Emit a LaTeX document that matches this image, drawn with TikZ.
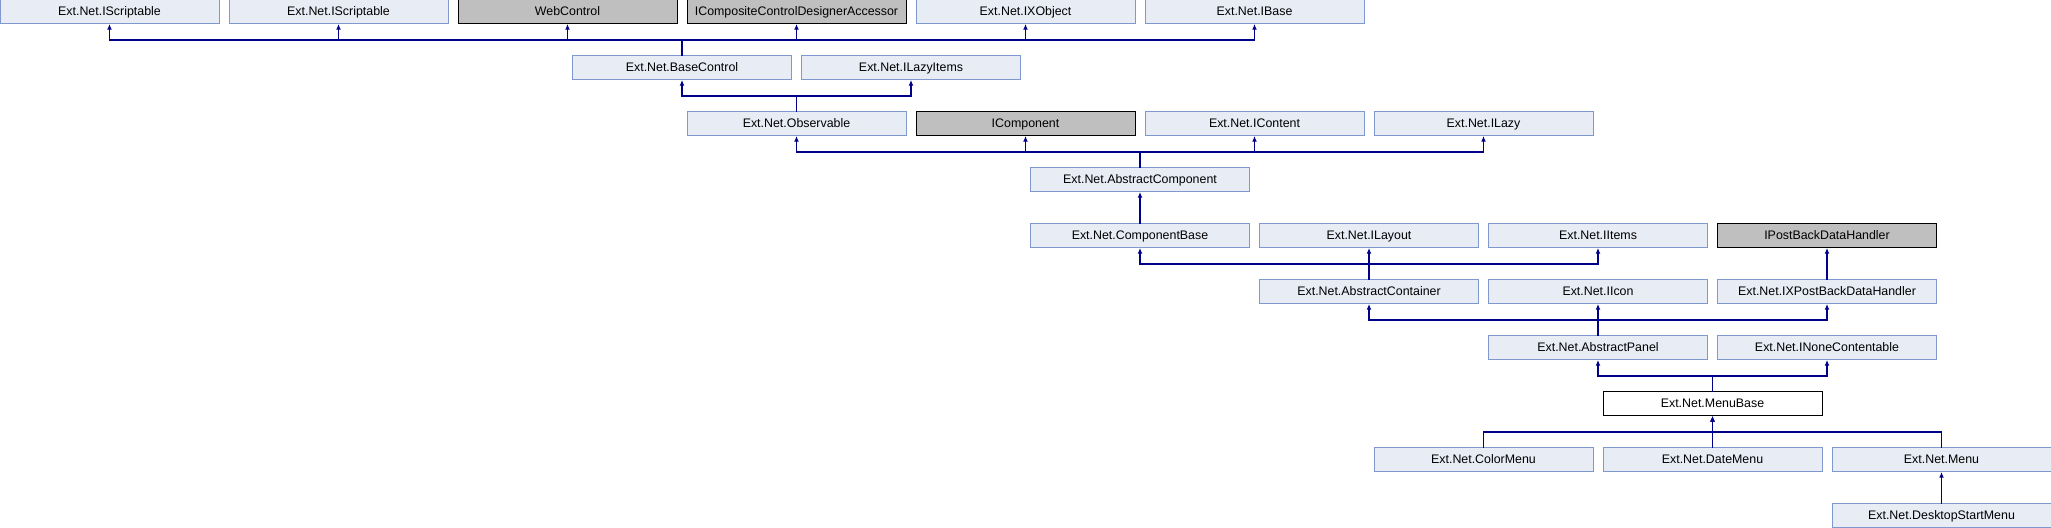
\documentclass[tikz,border=0pt]{standalone}
\usepackage{fontspec}
\setmainfont{Liberation Sans}
\usetikzlibrary{arrows.meta}
\definecolor{boxFill}{HTML}{E8ECF4}
\definecolor{boxLine}{HTML}{7F98CE}
\definecolor{extFill}{HTML}{BFBFBF}
\definecolor{inhLine}{HTML}{000088}
\begin{document}
\begin{tikzpicture}
[x=0.5pt,y=-0.5pt,%
  classDecorate/.style={shape=rectangle,draw=boxLine,fill=boxFill,line width=0.5pt,
    minimum width=109.5pt,minimum height=12pt,inner sep=0pt,outer sep=0pt,
    text height=4.6pt,text depth=1.3pt,
    font=\fontsize{6.2}{7}\selectfont},%
  extDecorate/.style={classDecorate,draw=black,fill=extFill},%
  mainDecorate/.style={classDecorate,draw=black,fill=white},%
  lineDecorate/.style={draw=inhLine,line width=0.6pt,-{Latex[length=2.8pt,width=2.4pt]},
    to path={(\tikztostart) -- ++(0,-16) -| (\tikztotarget)}}]
\useasboundingbox (0,0) rectangle (2051,528);
%% classes of the hierarchy
\foreach \nodename/\c/\r/\kind/\txt in {
  isa/0/0/classDecorate/Ext.Net.IScriptable,
  isb/1/0/classDecorate/Ext.Net.IScriptable,
  web/2/0/extDecorate/WebControl,
  icc/3/0/extDecorate/ICompositeControlDesignerAccessor,
  ixo/4/0/classDecorate/Ext.Net.IXObject,
  ibase/5/0/classDecorate/Ext.Net.IBase,
  bctl/2.5/1/classDecorate/Ext.Net.BaseControl,
  ilzi/3.5/1/classDecorate/Ext.Net.ILazyItems,
  obs/3/2/classDecorate/Ext.Net.Observable,
  icomp/4/2/extDecorate/IComponent,
  icont/5/2/classDecorate/Ext.Net.IContent,
  ilazy/6/2/classDecorate/Ext.Net.ILazy,
  abscomp/4.5/3/classDecorate/Ext.Net.AbstractComponent,
  cbase/4.5/4/classDecorate/Ext.Net.ComponentBase,
  ilay/5.5/4/classDecorate/Ext.Net.ILayout,
  iitems/6.5/4/classDecorate/Ext.Net.IItems,
  ipb/7.5/4/extDecorate/IPostBackDataHandler,
  abscont/5.5/5/classDecorate/Ext.Net.AbstractContainer,
  iicon/6.5/5/classDecorate/Ext.Net.IIcon,
  ixpb/7.5/5/classDecorate/Ext.Net.IXPostBackDataHandler,
  abspan/6.5/6/classDecorate/Ext.Net.AbstractPanel,
  inone/7.5/6/classDecorate/Ext.Net.INoneContentable,
  mbase/7/7/mainDecorate/Ext.Net.MenuBase,
  cmenu/6/8/classDecorate/Ext.Net.ColorMenu,
  dmenu/7/8/classDecorate/Ext.Net.DateMenu,
  menu/8/8/classDecorate/Ext.Net.Menu,
  dsmenu/8/9/classDecorate/Ext.Net.DesktopStartMenu}
{
  \node (\nodename) at ({229*\c+109.5},{56*\r+12}) [\kind] {\txt};
}
%% inheritance lines
\path
\foreach \startnode/\endnode in {
  bctl/isa, bctl/isb, bctl/web, bctl/icc, bctl/ixo, bctl/ibase,
  obs/bctl, obs/ilzi,
  abscomp/obs, abscomp/icomp, abscomp/icont, abscomp/ilazy,
  cbase/abscomp,
  abscont/cbase, abscont/ilay, abscont/iitems,
  ixpb/ipb,
  abspan/abscont, abspan/iicon, abspan/ixpb,
  mbase/abspan, mbase/inone,
  cmenu/mbase, dmenu/mbase, menu/mbase,
  dsmenu/menu}
{
  (\startnode.north) edge[lineDecorate] (\endnode.south)
};
\end{tikzpicture}
\end{document}
